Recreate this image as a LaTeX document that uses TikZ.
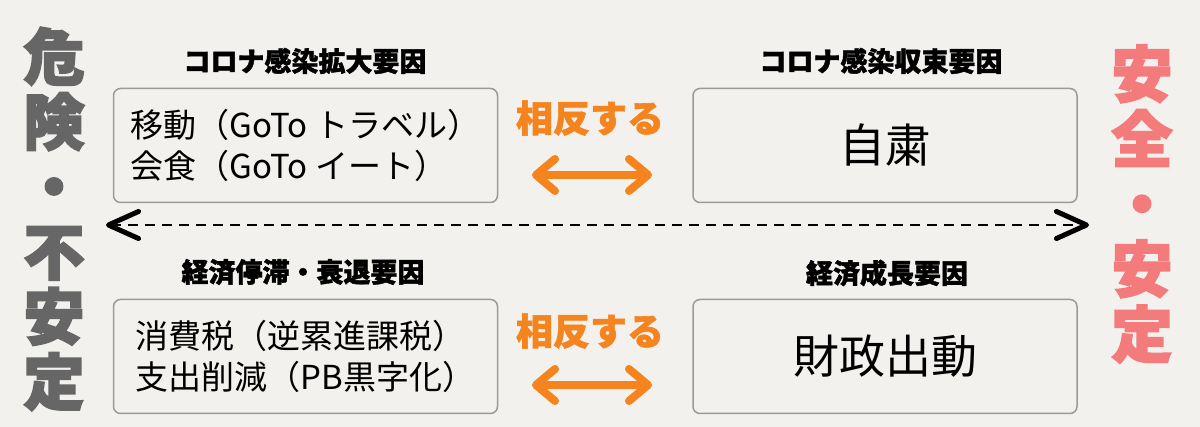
\documentclass[tikz,border=0pt]{standalone}
\usepackage{fontspec}
\setmainfont{Noto Sans CJK JP}
\newfontfamily\heavyfont{Noto Sans CJK JP}[BoldFeatures={FakeBold=3}]
\newfontfamily\titlefont{Noto Sans CJK JP}[BoldFeatures={FakeBold=1.5}]
\usetikzlibrary{arrows.meta}
\definecolor{bg}{HTML}{F2F1ED}
\definecolor{darkgrey}{HTML}{666666}
\definecolor{salmon}{HTML}{F47B7B}
\definecolor{orng}{HTML}{F5841F}
\definecolor{boxline}{HTML}{9A9A9A}
\begin{document}
\begin{tikzpicture}[x=1pt,y=-1pt,
  boxnode/.style={draw=boxline, line width=1.5pt, rounded corners=7pt, minimum width=384pt, minimum height=114pt, inner sep=0pt},
  ttl/.style={font=\titlefont\bfseries\fontsize{27}{27}\selectfont, text=black, inner sep=0pt},
  body/.style={font=\fontsize{33}{41}\selectfont, align=left},
  big/.style={font=\fontsize{46}{46}\selectfont},
  vert/.style={font=\heavyfont\bfseries\fontsize{61}{65}\selectfont, align=center, inner sep=0pt},
  opp/.style={font=\titlefont\bfseries\fontsize{37}{37}\selectfont, text=orng, inner sep=0pt},
  oarrow/.style={draw=orng, line width=8pt, line cap=round, {Straight Barb[length=19pt,width=32pt,round]}-{Straight Barb[length=19pt,width=32pt,round]}},
  darrow/.style={draw=black, line width=2pt, dash pattern=on 10pt off 7pt, {Straight Barb[length=30pt,width=27pt,line width=5pt,round]}-{Straight Barb[length=30pt,width=27pt,line width=5pt,round]}}
]
\useasboundingbox (0,0) rectangle (1200,427);
\fill[bg] (0,0) rectangle (1200,427);

% vertical side texts
\node[vert, text=darkgrey] (danger) at (54,219) {危\\険\\・\\不\\安\\定};
\node[vert, text=salmon] (safe) at (1142,204) {安\\全\\・\\安\\定};

% titles
\node[ttl] (t1) at (305,61) {コロナ感染拡大要因};
\node[ttl] (t2) at (881,61) {コロナ感染収束要因};
\node[ttl] (t3) at (303,272) {経済停滞・衰退要因};
\node[ttl] (t4) at (887,273) {経済成長要因};

% boxes
\node[boxnode, body] (b1) at (305.5,145.5) {移動（GoTo トラベル）\\会食（GoTo イート）};
\node[boxnode, big] (b2) at (885,145.5) {自粛};
\node[boxnode, body] (b3) at (305.5,356.5) {消費税（逆累進課税）\\支出削減（PB黒字化）};
\node[boxnode, big] (b4) at (885,356.5) {財政出動};

% opposing labels and arrows
\node[opp] (o1) at (590,118) {相反する};
\node[opp] (o2) at (590,331) {相反する};
\coordinate (oa1) at (532,175);
\coordinate (oa2) at (652,175);
\coordinate (ob1) at (532,385);
\coordinate (ob2) at (652,385);
\draw[oarrow] (oa1) -- (oa2);
\draw[oarrow] (ob1) -- (ob2);

% dashed axis
\coordinate (dl) at (106,225);
\coordinate (dr) at (1089,225);
\draw[darrow] (dl) -- (dr);
\end{tikzpicture}
\end{document}
